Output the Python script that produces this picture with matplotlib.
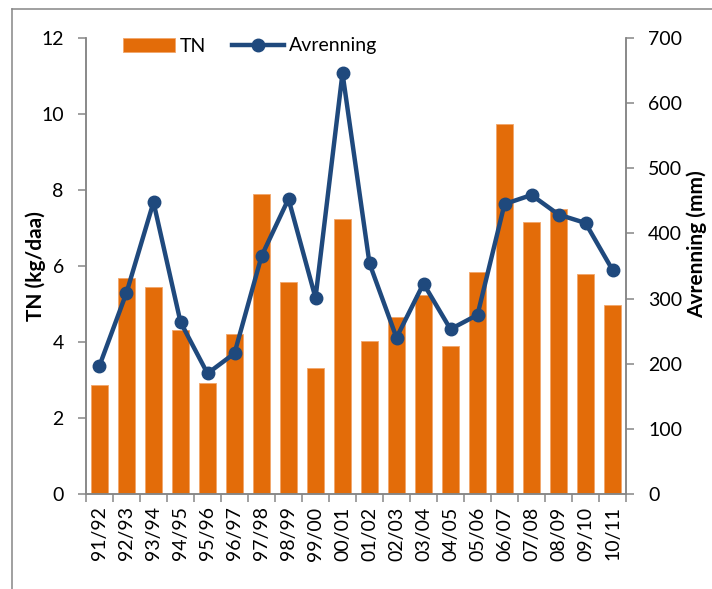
import numpy as np
import matplotlib
matplotlib.use("Agg")
import matplotlib.pyplot as plt
from matplotlib.lines import Line2D

plt.rcParams['font.family'] = ['Lato', 'DejaVu Sans']

# --- Data ---
sesonger = ["91/92", "92/93", "93/94", "94/95", "95/96", "96/97", "97/98",
            "98/99", "99/00", "00/01", "01/02", "02/03", "03/04", "04/05",
            "05/06", "06/07", "07/08", "08/09", "09/10", "10/11"]
tn = [2.86, 5.68, 5.46, 4.32, 2.92, 4.20, 7.89, 5.57, 3.31, 7.24,
      4.02, 4.65, 5.24, 3.89, 5.84, 9.73, 7.17, 7.50, 5.79, 4.97]
avrenning = [197, 309, 448, 264, 185, 216, 365, 453, 301, 646,
             354, 240, 323, 253, 275, 445, 459, 429, 416, 344]

orange = "#E36C09"
blaa = "#1F497D"
graa = "#868686"

fig = plt.figure(figsize=(7.12, 5.89), dpi=100)
ax = fig.add_axes([86 / 712, 1 - 494 / 589, 540 / 712, 456 / 589])
ax2 = ax.twinx()

x = np.arange(len(sesonger))
ax.bar(x, tn, width=0.66, color=orange, edgecolor="#F2A66A", linewidth=0.6,
       label="TN")
ax2.plot(x, avrenning, color=blaa, lw=3.2, marker="o", markersize=9,
         label="Avrenning")

ax.set_xlim(-0.5, len(sesonger) - 0.5)
ax.set_ylim(0, 12)
ax.set_yticks(np.arange(0, 13, 2))
ax2.set_ylim(0, 700)
ax2.set_yticks(np.arange(0, 701, 100))

ax.set_xticks(x)
ax.set_xticklabels(sesonger, rotation=90)
ax.set_xticks(np.arange(-0.5, len(sesonger)), minor=True)
ax.tick_params(axis="x", which="major", length=0, pad=9, labelsize=14)
ax.tick_params(axis="x", which="minor", length=6, width=1.1, color=graa,
               direction="out")
ax.tick_params(axis="y", length=6, width=1.1, color=graa, labelsize=14, pad=10)
ax2.tick_params(axis="y", length=6, width=1.1, color=graa, labelsize=14, pad=10)

for a in (ax, ax2):
    a.spines["top"].set_visible(False)
    for s in ("left", "right", "bottom"):
        a.spines[s].set_color(graa)
        a.spines[s].set_linewidth(1.1)

ax.set_ylabel("TN (kg/daa)", fontsize=15, fontweight="bold", va="center")
ax.yaxis.set_label_coords(-0.094, 0.5)
ax2.set_ylabel("Avrenning (mm)", fontsize=15, fontweight="bold", va="center")
ax2.yaxis.set_label_coords(1.131, 0.548)

h1, l1 = ax.get_legend_handles_labels()
h2, l2 = ax2.get_legend_handles_labels()
ax2.legend(h1 + h2, l1 + l2, ncol=2, frameon=False, fontsize=14,
           loc="center left", bbox_to_anchor=(115 / 712, 1 - 46 / 589),
           bbox_transform=fig.transFigure, handlelength=2.7,
           handletextpad=0.25, columnspacing=1.3, borderaxespad=0)

# ramme rundt diagrammet
fig.add_artist(Line2D([12 / 712, 12 / 712], [0, 1 - 9 / 589],
                      transform=fig.transFigure, color=graa, lw=1.1))
fig.add_artist(Line2D([12 / 712, 1], [1 - 9 / 589, 1 - 9 / 589],
                      transform=fig.transFigure, color=graa, lw=1.1))

fig.savefig("out.png", dpi=100)
